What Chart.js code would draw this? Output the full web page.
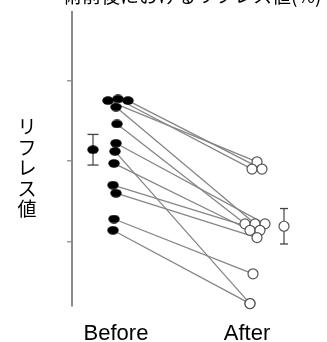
<!DOCTYPE html>
<html>
<head>
<meta charset="utf-8">
<script src="https://cdn.jsdelivr.net/npm/chart.js@4.4.1/dist/chart.umd.min.js"></script>
<style>
  html, body { margin: 0; padding: 0; background: #fff; }
  #wrap { width: 327px; height: 342px; }
</style>
</head>
<body>
<div id="wrap"><canvas id="c" width="327" height="342"></canvas></div>
<script>
// ---- data ----
const titleText = '術前後におけるリフレス値(%)';
const yAxisLabel = 'リフレス値';
const groupLabels = ['Before', 'After'];
const beforeValues = [37.5, 37.7, 37.5, 36.7, 34.6, 32.2, 31.2, 29.7, 27.0, 26.0, 22.8, 21.4];
const afterValues  = [29.9, 29.0, 29.0, 22.2, 22.2, 22.2, 12.3, 21.4, 21.4, 20.5, 16.0, 12.3];
const groupMeans  = [31.4, 21.9];
const groupErrors = [1.9, 2.2];
const yTicks = [20, 30, 40];

// ---- layout (horizontal placement on the hidden x scale) ----
const X_BEFORE = 1.7, X_AFTER = 7.3;
const beforeSpread = [-0.26, 0.14, 0.54, 0.06, 0.1, 0.06, 0.02, -0.02, -0.06, 0.06, -0.02, -0.06];
const afterSpread  = [0.1, -0.1, 0.3, 0.02, -0.38, 0.42, -0.18, -0.18, 0.22, 0.1, -0.06, -0.18];
const meanX = [X_BEFORE - 0.86, X_AFTER + 1.18];
const labelX = [1.76, 7.0];

// filled oval marker used for the "before" values
function ovalSprite(w, h) {
  const c = document.createElement('canvas');
  c.width = w; c.height = h;
  const g = c.getContext('2d');
  g.fillStyle = '#000';
  g.beginPath();
  g.ellipse(w / 2, h / 2, w / 2 - 0.3, h / 2 - 0.3, 0, 0, Math.PI * 2);
  g.fill();
  return c;
}
const oval = ovalSprite(12, 9);

const beforePts = beforeValues.map((v, i) => ({ x: X_BEFORE + beforeSpread[i], y: v }));
const afterPts  = afterValues.map((v, i) => ({ x: X_AFTER + afterSpread[i], y: v }));

const datasets = [];

// markers
datasets.push({
  label: 'before', data: beforePts, pointStyle: oval, pointRadius: 5,
  showLine: false, order: 0, clip: false
});
datasets.push({
  label: 'after', data: afterPts, pointStyle: 'circle', pointRadius: 5,
  pointBorderColor: '#555', pointBackgroundColor: '#fff', pointBorderWidth: 1.2,
  showLine: false, order: 0, clip: false
});
datasets.push({
  label: 'before mean', data: [{ x: meanX[0], y: groupMeans[0] }], pointStyle: oval, pointRadius: 5,
  showLine: false, order: 0, clip: false
});
datasets.push({
  label: 'after mean', data: [{ x: meanX[1], y: groupMeans[1] }], pointStyle: 'circle', pointRadius: 5,
  pointBorderColor: '#555', pointBackgroundColor: '#fff', pointBorderWidth: 1.2,
  showLine: false, order: 0, clip: false
});

// error bars with horizontal caps
const capRadius = [5.5, 4];
groupMeans.forEach((m, g) => {
  datasets.push({
    label: 'err' + g,
    data: [{ x: meanX[g], y: m - groupErrors[g] }, { x: meanX[g], y: m + groupErrors[g] }],
    showLine: true, borderColor: '#444', borderWidth: 1.2,
    pointStyle: 'line', pointRadius: capRadius[g], pointBorderColor: '#444', pointBorderWidth: 1.3,
    order: 1, clip: false
  });
});

// connecting lines for each subject
beforeValues.forEach((v, i) => {
  datasets.push({
    label: 'pair' + i,
    data: [beforePts[i], afterPts[i]],
    showLine: true, borderColor: '#858585', borderWidth: 1.3,
    pointRadius: 0, order: 2, clip: false
  });
});

const textPlugin = {
  id: 'texts',
  afterDraw(chart) {
    const ctx = chart.ctx;
    ctx.save();
    ctx.fillStyle = '#000';
    ctx.font = '19px "Noto Sans CJK JP"';
    ctx.textAlign = 'left';
    ctx.textBaseline = 'alphabetic';
    ctx.fillText(titleText, 63, 3);
    ctx.font = '19px "Noto Sans CJK JP"';
    ctx.textAlign = 'center';
    ctx.textBaseline = 'middle';
    [...yAxisLabel].forEach((ch, i) => ctx.fillText(ch, 27, 127 + i * 20.5));
    ctx.restore();
  }
};

new Chart(document.getElementById('c'), {
  type: 'scatter',
  data: { datasets },
  plugins: [textPlugin],
  options: {
    responsive: false,
    animation: false,
    events: [],
    layout: { autoPadding: false, padding: { top: 12, left: 0, right: 0, bottom: 0 } },
    plugins: { legend: { display: false }, tooltip: { enabled: false }, title: { display: false } },
    scales: {
      x: {
        type: 'linear', min: 0, max: 10.2, position: 'bottom',
        afterBuildTicks(s) { s.ticks = labelX.map(v => ({ value: v })); },
        afterFit(s) { s.height = 36; },
        grid: { display: false, drawTicks: false },
        border: { display: false },
        ticks: {
          autoSkip: false, maxRotation: 0, minRotation: 0, padding: 15, color: '#000',
          font: { family: 'Arial, "Liberation Sans", sans-serif', size: 22 },
          callback: (v, i) => groupLabels[i]
        }
      },
      y: {
        type: 'linear', min: 12, max: 48.5, position: 'left',
        afterBuildTicks(s) { s.ticks = yTicks.map(v => ({ value: v })); },
        afterFit(s) { s.width = 72; },
        ticks: { display: false },
        grid: { display: true, drawOnChartArea: false, drawTicks: true, tickLength: 5, color: '#9a9a9a', lineWidth: 1.5 },
        border: { display: true, color: '#8a8a8a', width: 2 }
      }
    }
  }
});
</script>
</body>
</html>
